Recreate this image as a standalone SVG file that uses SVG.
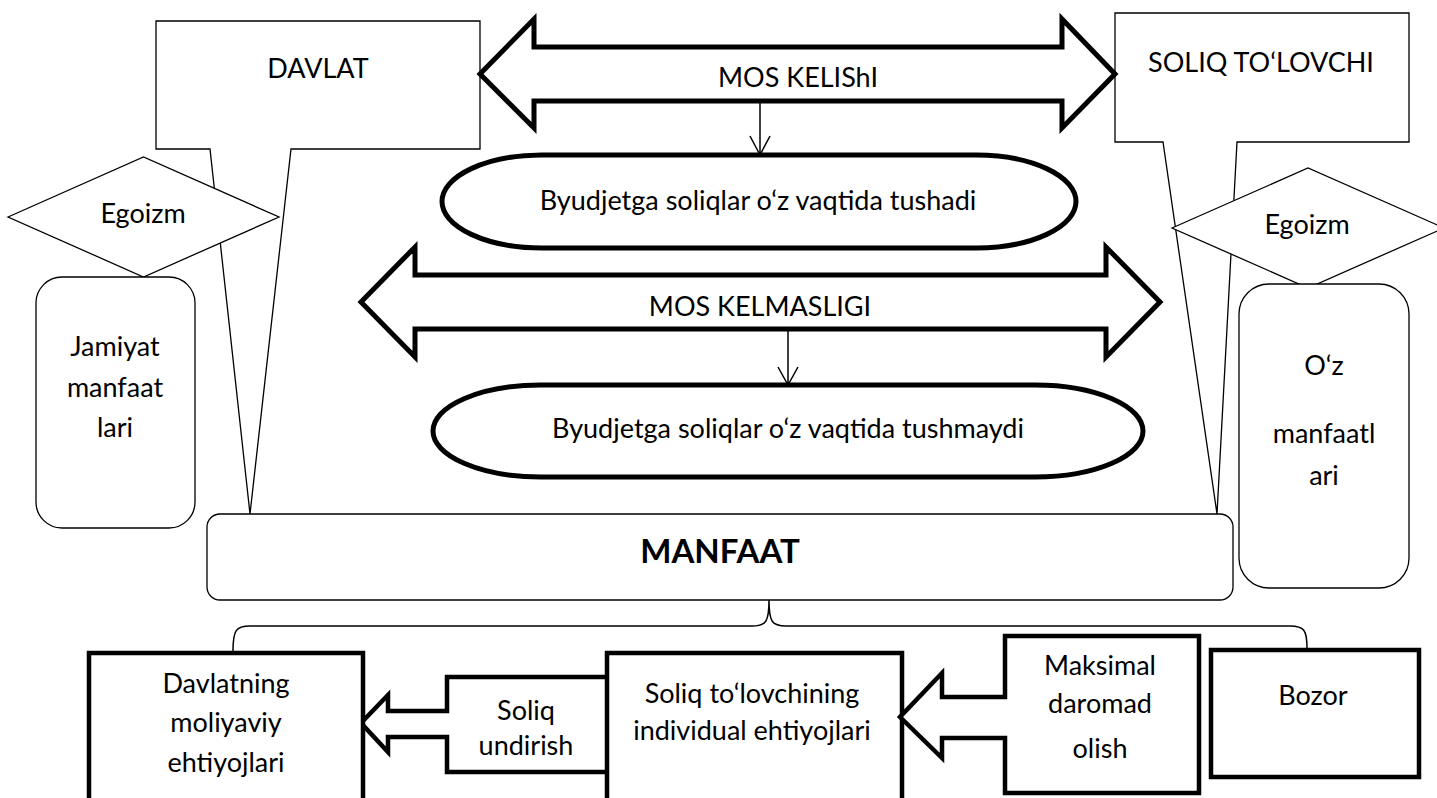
<svg xmlns="http://www.w3.org/2000/svg" width="1437" height="798" viewBox="0 0 1437 798">
<style>
.thin{fill:#fff;stroke:#000;stroke-width:1.3;stroke-linejoin:miter}
.thick{fill:#fff;stroke:#000;stroke-width:5;stroke-linejoin:miter}
.box{fill:#fff;stroke:#000;stroke-width:4.5;stroke-linejoin:miter}
.ln{fill:none;stroke:#000;stroke-width:1.5}
text{font-family:Lato,"Liberation Sans",sans-serif;font-size:27px;fill:#000;text-anchor:middle}
.b{font-weight:bold;font-size:33px}
</style>
<rect width="1437" height="798" fill="#fff"/>
<g id="davlat">
<path class="thin" d="M156,21 H480 V149 H291 L250,514 L210,149 H156 Z"/>
<text x="318" y="78">DAVLAT</text>
</g>
<g id="soliq-tolovchi">
<path class="thin" d="M1115,13 H1409 V142 H1237 L1217,514 L1163,142 H1115 Z"/>
<text x="1261" y="72">SOLIQ TO‘LOVCHI</text>
</g>
<g id="egoizm-left">
<path class="thin" d="M8,217 L143.5,157 L279,217 L143.5,277 Z"/>
<text x="143" y="223">Egoizm</text>
</g>
<g id="egoizm-right">
<path class="thin" d="M1172,228 L1308,168 L1444,228 L1308,288 Z"/>
<text x="1307" y="234">Egoizm</text>
</g>
<g id="jamiyat">
<rect class="thin" x="36" y="277" width="159" height="251" rx="26" ry="26"/>
<text x="115" y="356">Jamiyat</text>
<text x="115" y="397">manfaat</text>
<text x="115" y="437">lari</text>
</g>
<g id="oz-manfaat">
<rect class="thin" x="1239" y="284" width="170" height="304" rx="30" ry="30"/>
<text x="1324" y="375">O‘z</text>
<text x="1324" y="443">manfaatl</text>
<text x="1324" y="485">ari</text>
</g>
<g id="mos-kelishi">
<path class="thick" d="M480,74 L534,19 V47 H1062 V19 L1115,74 L1062,128 V101 H534 V128 Z"/>
<text x="798" y="87">MOS KELIShI</text>
</g>
<g id="tushadi">
<path class="thick" d="M542,155 H976 A100,46.5 0 0 1 976,248 H542 A100,46.5 0 0 1 542,155 Z"/>
<text x="758" y="210">Byudjetga soliqlar o‘z vaqtida tushadi</text>
</g>
<g id="mos-kelmasligi">
<path class="thick" d="M361,302 L415,247 V275 H1106 V247 L1160,302 L1106,357 V329 H415 V357 Z"/>
<text x="760" y="316">MOS KELMASLIGI</text>
</g>
<g id="tushmaydi">
<path class="thick" d="M541,385 H1035 A108,46 0 0 1 1035,477 H541 A108,46 0 0 1 541,385 Z"/>
<text x="788" y="438">Byudjetga soliqlar o‘z vaqtida tushmaydi</text>
</g>
<g id="manfaat">
<rect class="thin" x="207" y="514" width="1026" height="86" rx="13" ry="13"/>
<text class="b" x="720" y="563">MANFAAT</text>
</g>
<g id="soliq-undirish">
<path class="box" d="M606,677 H447 V711 H388 V695 L361,723 L388,752 V737 H447 V772 H606"/>
<text x="526" y="720">Soliq</text>
<text x="526" y="755">undirish</text>
</g>
<g id="davlat-ehtiyoj">
<rect class="box" x="89" y="653" width="274" height="170"/>
<text x="226" y="693">Davlatning</text>
<text x="226" y="732">moliyaviy</text>
<text x="226" y="772">ehtiyojlari</text>
</g>
<g id="individual-ehtiyoj">
<rect class="box" x="607" y="653" width="295" height="170"/>
<text x="752" y="703">Soliq to‘lovchining</text>
<text x="752" y="740">individual ehtiyojlari</text>
</g>
<g id="maksimal">
<path class="box" d="M1005,636 H1199 V793 H1005 V738 H942 V758 L900,717 L942,673 V697 H1005 Z"/>
<text x="1100" y="675">Maksimal</text>
<text x="1100" y="713">daromad</text>
<text x="1100" y="758">olish</text>
</g>
<g id="bozor">
<rect class="box" x="1211" y="650" width="208" height="127"/>
<text x="1313" y="705">Bozor</text>
</g>
<g id="connectors">
<path class="ln" d="M760,101 V154 M750,136 L760,155 L770,136"/>
<path class="ln" d="M788,329 V384 M778,367 L788,385 L798,367"/>
<path class="ln" d="M233,651 C233,630 236,626 250,626 L752,626 C766,626 769,622 769,600 C769,622 772,626 786,626 L1290,626 C1304,626 1307,630 1307,648"/>
</g>
</svg>
